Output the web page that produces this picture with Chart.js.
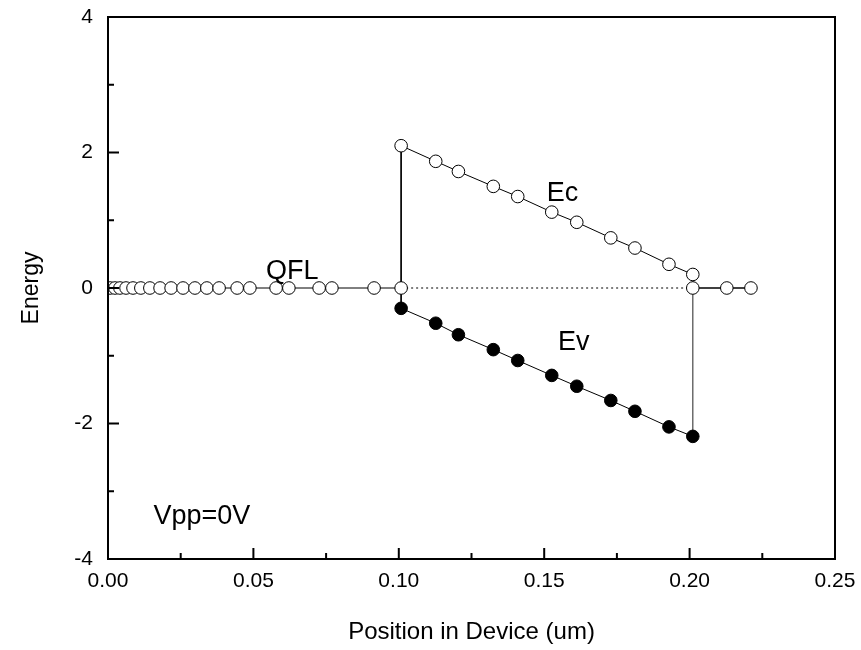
<!DOCTYPE html>
<html>
<head>
<meta charset="utf-8">
<script src="https://cdn.jsdelivr.net/npm/chart.js@4.4.0/dist/chart.umd.min.js"></script>
<style>
html,body{margin:0;padding:0;background:#fff;}
#wrap{width:861px;height:650px;}
</style>
</head>
<body>
<div id="wrap"><canvas id="c" width="861" height="650"></canvas></div>
<script>
// ---- data ----
const qflLeftX = [0.0007, 0.0024, 0.0041, 0.0062, 0.0086, 0.0113, 0.0144, 0.0179, 0.0217, 0.0258, 0.0299, 0.0340, 0.0382, 0.0444, 0.0488, 0.0578, 0.0622, 0.0726, 0.0770, 0.0915, 0.1008];
const qflLeftY = [0, 0, 0, 0, 0, 0, 0, 0, 0, 0, 0, 0, 0, 0, 0, 0, 0, 0, 0, 0, 0];
const qflRightX = [0.2011, 0.2128, 0.2211];
const qflRightY = [0, 0, 0];
const ecX = [0.1008, 0.1127, 0.1205, 0.1325, 0.1409, 0.1526, 0.1612, 0.1729, 0.1812, 0.1929, 0.2011];
const ecY = [2.10, 1.87, 1.72, 1.50, 1.35, 1.12, 0.97, 0.74, 0.59, 0.35, 0.20];
const evX = [0.1008, 0.1127, 0.1205, 0.1325, 0.1409, 0.1526, 0.1612, 0.1729, 0.1812, 0.1929, 0.2011];
const evY = [-0.30, -0.52, -0.69, -0.91, -1.07, -1.29, -1.45, -1.66, -1.82, -2.05, -2.19];

const xTickValues = [0, 0.05, 0.10, 0.15, 0.20, 0.25];
const xTickLabels = ['0.00', '0.05', '0.10', '0.15', '0.20', '0.25'];
const xMinorValues = [0.025, 0.075, 0.125, 0.175, 0.225];
const yTickValues = [-4, -2, 0, 2, 4];
const yTickLabels = ['-4', '-2', '0', '2', '4'];
const yMinorValues = [-3, -1, 1, 3];

const noteTexts = ['QFL', 'Ec', 'Ev', 'Vpp=0V'];
const noteX = [0.0634, 0.1563, 0.1602, 0.0323];
const noteY = [0.13, 1.29, -0.92, -3.48];

// ---- building ----
const FONT = '"Liberation Sans", Arial, Helvetica, sans-serif';
const pts = (xs, ys) => xs.map((v, i) => ({x: v, y: ys[i]}));
const last = a => a[a.length - 1];

const openPt = {pointRadius: 6.3, pointBackgroundColor: '#fff', pointBorderColor: '#000', pointBorderWidth: 1, borderColor: '#000', borderWidth: 1, showLine: true, order: 1};
const fillPt = {pointRadius: 6.3, pointBackgroundColor: '#000', pointBorderColor: '#000', pointBorderWidth: 1, borderColor: '#000', borderWidth: 1, showLine: true, order: 1};
const lineOnly = {pointRadius: 0, showLine: true, order: 10};

const datasets = [
  Object.assign({label: 'QFL', data: pts(qflLeftX, qflLeftY)}, openPt),
  Object.assign({label: 'QFL right', data: pts(qflRightX, qflRightY)}, openPt, {borderWidth: 1.6}),
  Object.assign({label: 'Ec', data: pts(ecX, ecY)}, openPt),
  Object.assign({label: 'Ev', data: pts(evX, evY)}, fillPt),
  Object.assign({label: 'QFL gap', data: [{x: last(qflLeftX), y: 0}, {x: qflRightX[0], y: 0}], borderColor: '#000', borderWidth: 1.2, borderDash: [2, 3]}, lineOnly),
  Object.assign({label: 'left edge', data: [{x: ecX[0], y: ecY[0]}, {x: evX[0], y: evY[0]}], borderColor: '#000', borderWidth: 1}, lineOnly),
  Object.assign({label: 'right edge', data: [{x: last(ecX), y: last(ecY)}, {x: last(evX), y: last(evY)}], borderColor: '#555', borderWidth: 1.3}, lineOnly)
];

const decor = {
  id: 'decor',
  afterDatasetsDraw(chart) {
    const {ctx, chartArea: a, scales: {x, y}} = chart;
    ctx.save();
    ctx.strokeStyle = '#000';
    ctx.lineWidth = 2;
    ctx.beginPath();
    xTickValues.forEach(v => { const p = x.getPixelForValue(v); ctx.moveTo(p, a.bottom); ctx.lineTo(p, a.bottom - 11); });
    xMinorValues.forEach(v => { const p = x.getPixelForValue(v); ctx.moveTo(p, a.bottom); ctx.lineTo(p, a.bottom - 6); });
    yTickValues.forEach(v => { const p = y.getPixelForValue(v); ctx.moveTo(a.left, p); ctx.lineTo(a.left + 11, p); });
    yMinorValues.forEach(v => { const p = y.getPixelForValue(v); ctx.moveTo(a.left, p); ctx.lineTo(a.left + 6, p); });
    ctx.stroke();
    ctx.strokeRect(a.left, a.top, a.right - a.left, a.bottom - a.top);
    ctx.fillStyle = '#000';
    ctx.font = '27px ' + FONT;
    ctx.textAlign = 'center';
    ctx.textBaseline = 'alphabetic';
    noteTexts.forEach((t, i) => ctx.fillText(t, x.getPixelForValue(noteX[i]), y.getPixelForValue(noteY[i])));
    ctx.restore();
  }
};

new Chart(document.getElementById('c'), {
  type: 'scatter',
  data: {datasets},
  options: {
    responsive: false,
    devicePixelRatio: 1,
    animation: false,
    events: [],
    layout: {padding: {top: 17, right: 26, left: 0, bottom: 0}},
    plugins: {legend: {display: false}, tooltip: {enabled: false}},
    scales: {
      x: {
        type: 'linear', min: 0, max: 0.25,
        afterBuildTicks: s => { s.ticks = xTickValues.map(v => ({value: v})); },
        afterFit: s => { s.height = 91; s.paddingLeft = 0; s.paddingRight = 0; },
        grid: {display: false, drawTicks: false},
        border: {display: false},
        ticks: {callback: (v, i) => xTickLabels[i], color: '#000', font: {family: FONT, size: 21}, padding: 10, maxRotation: 0, autoSkip: false},
        title: {display: true, text: 'Position in Device (um)', color: '#000', font: {family: FONT, size: 24, lineHeight: 1.2}, padding: {top: 0, bottom: 3}}
      },
      y: {
        type: 'linear', min: -4, max: 4,
        afterBuildTicks: s => { s.ticks = yTickValues.map(v => ({value: v})); },
        afterFit: s => { s.width = 108; s.paddingTop = 0; s.paddingBottom = 0; },
        grid: {display: false, drawTicks: false},
        border: {display: false},
        ticks: {callback: (v, i) => yTickLabels[i], color: '#000', font: {family: FONT, size: 21}, padding: 15, autoSkip: false},
        title: {display: true, text: 'Energy', color: '#000', font: {family: FONT, size: 23, lineHeight: 1.2}, padding: {top: 18, bottom: 0}}
      }
    }
  },
  plugins: [decor]
});
</script>
</body>
</html>
